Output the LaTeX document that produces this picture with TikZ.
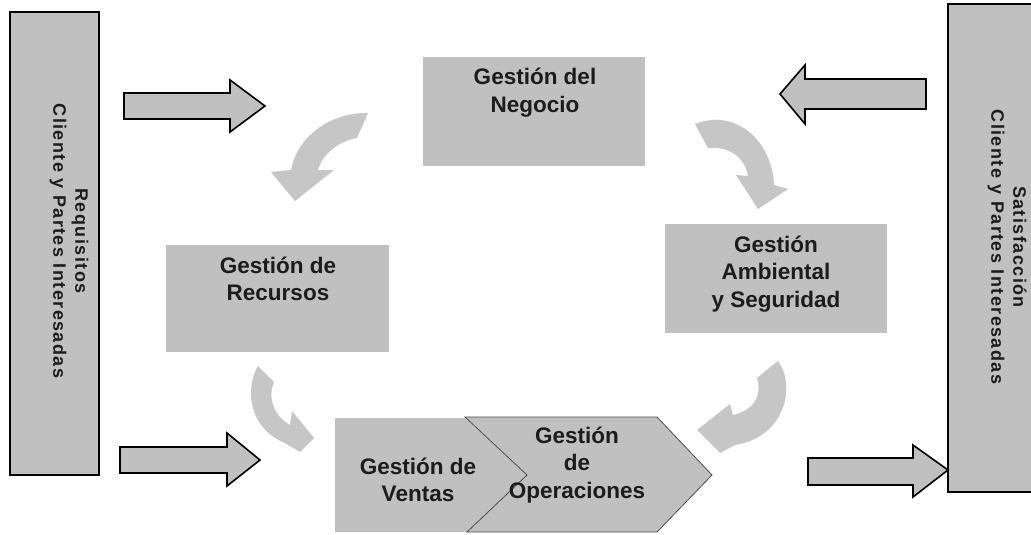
\documentclass[tikz,border=0pt]{standalone}
\usepackage{fontspec}
\setmainfont{Liberation Sans}
\definecolor{boxgray}{RGB}{192,192,192}
\definecolor{arrowgray}{RGB}{198,198,198}
\definecolor{txt}{RGB}{28,28,28}
\begin{document}
\begin{tikzpicture}[x=1pt,y=-1pt,
  boxnode/.style={fill=boxgray, draw=none, inner sep=0pt},
  barnode/.style={fill=boxgray, draw=black, line width=1.8pt, inner sep=0pt},
  blockarrow/.style={fill=boxgray, draw=black, line width=1.6pt, line join=miter},
  curvearrow/.style={fill=arrowgray, draw=none},
  chevron/.style={fill=boxgray, draw=black!70, line width=0.8pt, line join=miter},
  lbl/.style={font=\fontsize{22.5}{27.5}\selectfont\bfseries, text=txt, align=center, inner sep=0pt},
  sidelbl/.style={font=\fontsize{18}{22}\selectfont\bfseries\addfontfeature{LetterSpace=8}, text=txt, align=center, inner sep=0pt, rotate=-90},
]
\useasboundingbox (0,0) rectangle (1031,535);
\clip (0,0) rectangle (1031,535);
\fill[white] (0,0) rectangle (1031,535);

% side bars
\node[barnode, minimum width=89pt, minimum height=463pt] (reqbar) at (54.5,243.5) {};
\node[sidelbl] (reqtxt) at (69,241) {Requisitos\\Cliente y Partes Interesadas};
\node[barnode, minimum width=92pt, minimum height=488pt] (satbar) at (994,248) {};
\node[sidelbl] (sattxt) at (1007,247) {Satisfacción\\Cliente y Partes Interesadas};

% straight block arrows
\draw[blockarrow] (124,93) -- (230,93) -- (230,80) -- (265,106) -- (230,132) -- (230,119) -- (124,119) -- cycle;
\draw[blockarrow] (120,447) -- (227,447) -- (227,433) -- (260,460) -- (227,486) -- (227,473) -- (120,473) -- cycle;
\draw[blockarrow] (926,79) -- (805,79) -- (805,65) -- (780,94) -- (805,124) -- (805,109) -- (926,109) -- cycle;
\draw[blockarrow] (808,458) -- (913,458) -- (913,445) -- (948,470) -- (913,497) -- (913,485) -- (808,485) -- cycle;

% process boxes
\node[boxnode, minimum width=222pt, minimum height=109pt] (negocio) at (534,111.5) {};
\node[lbl] (negociotxt) at (535,92.5) {Gestión del\\Negocio};
\node[boxnode, minimum width=223pt, minimum height=107pt] (recursos) at (277.5,298.5) {};
\node[lbl] (recursostxt) at (278,279) {Gestión de\\Recursos};
\node[boxnode, minimum width=222pt, minimum height=109pt] (ambiental) at (776,278.5) {};
\node[lbl] (ambientaltxt) at (776,274) {Gestión\\Ambiental\\y Seguridad};

% chevrons
\fill[boxgray] (335,418) -- (465,418) -- (527,475) -- (467,532) -- (335,532) -- cycle;
\draw[chevron] (465,417) -- (657,417) -- (712,475) -- (657,532) -- (467,532) -- (527,475) -- cycle;
\node[lbl] (ventastxt) at (418,480) {Gestión de\\Ventas};
\node[lbl] (operacionestxt) at (577,465) {Gestión\\de\\Operaciones};

% curved arrows
\fill[curvearrow] (368,113) .. controls (335,112) and (298,133) .. (291,170) -- (271,172) -- (295,201) -- (334,170) -- (318,170) .. controls (322,155) and (338,141) .. (357,138) -- cycle;
\fill[curvearrow] (695,124) .. controls (735,108) and (772,140) .. (774,185) -- (788,189) -- (758,209) -- (736,175) -- (748,176) .. controls (745,158) and (730,146) .. (708,148) -- cycle;
\fill[curvearrow] (258,366) .. controls (246,385) and (246,427) .. (285,443) -- (300,452) -- (314,438) -- (292,411) -- (290,425) .. controls (272,415) and (268,395) .. (274,382) -- cycle;
\fill[curvearrow] (778,361) .. controls (796,385) and (786,437) .. (735,445) -- (720,453) -- (697,430) -- (730,404) -- (733,415) .. controls (755,410) and (762,395) .. (757,378) -- cycle;
\end{tikzpicture}
\end{document}
